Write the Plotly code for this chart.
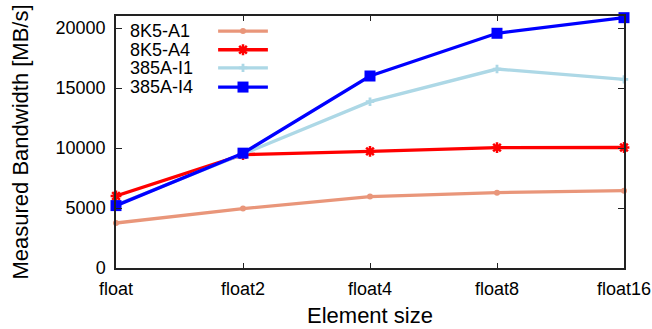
import plotly.graph_objects as go

categories = ["float", "float2", "float4", "float8", "float16"]
a1 = [3750, 4950, 5950, 6280, 6440]
a4 = [6000, 9450, 9720, 10030, 10040]
i1 = [5250, 9500, 13860, 16580, 15720]
i4 = [5200, 9570, 16000, 19560, 20860]
yticks = [0, 5000, 10000, 15000, 20000]
names = ["8K5-A1", "8K5-A4", "385A-I1", "385A-I4"]

colors = ["#E9967A", "#FF0000", "#ADD8E6", "#0000FF"]
markers = [
    dict(symbol="circle", size=6),
    dict(symbol="asterisk", size=9, line=dict(width=2.5, color="#FF0000")),
    dict(symbol="cross", size=7),
    dict(symbol="square", size=11),
]
values = [a1, a4, i1, i4]

fig = go.Figure()
for name, vals, col, mk in zip(names, values, colors, markers):
    fig.add_trace(go.Scatter(
        x=list(range(len(categories))), y=vals, name=name, mode="lines+markers",
        line=dict(color=col, width=3.3), marker=dict(color=col, **mk), cliponaxis=False,
        showlegend=False,
    ))

# custom legend (text left, sample right, like the reference)
leg_y = [0.940, 0.866, 0.794, 0.718]
for name, col, mk, ly in zip(names, colors, markers, leg_y):
    fig.add_trace(go.Scatter(
        x=[0.201, 0.299], y=[ly, ly], mode="lines", line=dict(color=col, width=3.3),
        xaxis="x2", yaxis="y2", showlegend=False, hoverinfo="skip",
    ))
    fig.add_trace(go.Scatter(
        x=[0.25], y=[ly], mode="markers", marker=dict(color=col, **mk),
        xaxis="x2", yaxis="y2", showlegend=False, hoverinfo="skip",
    ))
    fig.add_annotation(x=0.0236, y=ly, xref="paper", yref="paper", text=name,
                       showarrow=False, xanchor="left", yanchor="middle",
                       font=dict(size=18))

font = "Liberation Sans, Arial, sans-serif"
fig.update_layout(
    width=652, height=329,
    margin=dict(l=116, r=28, t=16, b=61),
    plot_bgcolor="white", paper_bgcolor="white",
    font=dict(family=font, size=18, color="black"),
    showlegend=False,
    xaxis=dict(
        range=[0, 4], tickmode="array", tickvals=list(range(len(categories))), ticktext=categories,
        ticks="inside", ticklen=5, tickcolor="#222", mirror="allticks", showline=True,
        linecolor="#222", linewidth=1.5, showgrid=False, zeroline=False, automargin=False,
        title=dict(text="Element size", font=dict(size=22), standoff=9),
        tickfont=dict(size=18), ticklabelstandoff=4,
    ),
    yaxis=dict(
        range=[0, 21000], tickmode="array", tickvals=yticks, ticktext=[str(v) for v in yticks],
        ticks="inside", ticklen=6, tickcolor="#222", mirror="allticks", showline=True,
        linecolor="#222", linewidth=1.5, showgrid=False, zeroline=False, automargin=False,
        title=dict(text="Measured Bandwidth [MB/s]", font=dict(size=22), standoff=21),
        tickfont=dict(size=18), ticklabelstandoff=5,
    ),
    xaxis2=dict(range=[0, 1], overlaying="x", visible=False, fixedrange=True),
    yaxis2=dict(range=[0, 1], overlaying="y", visible=False, fixedrange=True),
)
fig.write_html("out.html", config={"displayModeBar": False},
               post_script="document.body.style.margin='0';document.body.style.overflow='hidden';")
